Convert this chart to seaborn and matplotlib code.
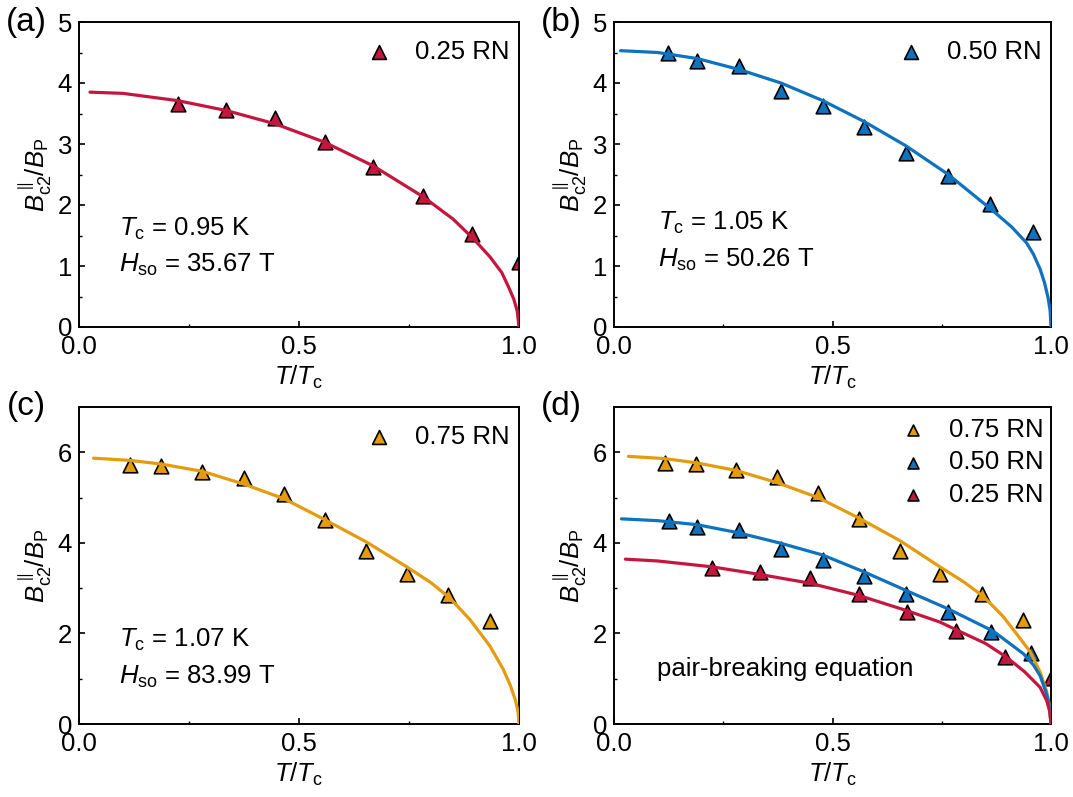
import matplotlib
matplotlib.use("Agg")
import matplotlib.pyplot as plt
import seaborn as sns
import pandas as pd

# ---------------- data ----------------
# measured points, T/Tc and Bc2/BP
t_025 = [0.225, 0.334, 0.446, 0.558, 0.669, 0.781, 0.893, 1.0]
b_025 = [3.66, 3.56, 3.43, 3.03, 2.62, 2.14, 1.52, 1.07]
t_050 = [0.124, 0.191, 0.287, 0.382, 0.478, 0.572, 0.668, 0.765, 0.860, 0.958]
b_050 = [4.50, 4.36, 4.28, 3.87, 3.62, 3.28, 2.86, 2.47, 2.01, 1.56]
t_075 = [0.117, 0.187, 0.280, 0.374, 0.467, 0.559, 0.653, 0.745, 0.839, 0.933]
b_075 = [5.73, 5.70, 5.57, 5.43, 5.08, 4.50, 3.81, 3.31, 2.84, 2.28]

# combined panel (d) values
t_025d = [0.225, 0.335, 0.448, 0.560, 0.671, 0.783, 0.895, 1.0]
b_025d = [3.45, 3.36, 3.22, 2.86, 2.48, 2.06, 1.47, 1.01]
t_050d = [0.126, 0.191, 0.286, 0.382, 0.478, 0.572, 0.668, 0.765, 0.862, 0.955]
b_050d = [4.49, 4.36, 4.29, 3.86, 3.62, 3.27, 2.86, 2.47, 2.03, 1.57]
t_075d = [0.116, 0.187, 0.279, 0.373, 0.467, 0.560, 0.654, 0.746, 0.841, 0.935]
b_075d = [5.76, 5.74, 5.61, 5.46, 5.10, 4.52, 3.83, 3.32, 2.87, 2.30]

# pair-breaking fit curves
ft_a = [0.025, 0.10, 0.225, 0.334, 0.446, 0.558, 0.669, 0.781, 0.798, 0.85, 0.896,
        0.934, 0.961, 0.976, 0.988, 0.996, 1.0]
fb_a = [3.85, 3.83, 3.71, 3.55, 3.33, 3.03, 2.64, 2.14, 2.05, 1.77, 1.45,
        1.15, 0.89, 0.66, 0.46, 0.26, 0.0]
ft_b = [0.015, 0.10, 0.191, 0.287, 0.382, 0.478, 0.572, 0.668, 0.765, 0.868, 0.91,
        0.944, 0.96, 0.975, 0.985, 0.993, 0.998, 1.0]
fb_b = [4.53, 4.50, 4.40, 4.22, 4.00, 3.71, 3.37, 2.97, 2.50, 1.90, 1.64,
        1.38, 1.19, 0.95, 0.73, 0.49, 0.27, 0.0]
ft_c = [0.033, 0.117, 0.187, 0.28, 0.374, 0.467, 0.559, 0.653, 0.745, 0.80, 0.843,
        0.889, 0.934, 0.964, 0.98, 0.992, 0.998, 1.0]
fb_c = [5.87, 5.82, 5.74, 5.58, 5.30, 4.97, 4.51, 4.02, 3.47, 3.12, 2.78,
        2.30, 1.72, 1.21, 0.86, 0.52, 0.26, 0.0]
ft_d75 = [0.033, 0.116, 0.187, 0.279, 0.373, 0.467, 0.56, 0.654, 0.746, 0.80, 0.845,
          0.89, 0.914, 0.93, 0.952, 0.975, 0.99, 0.997, 1.0]
fb_d75 = [5.91, 5.86, 5.77, 5.60, 5.33, 5.00, 4.55, 4.05, 3.47, 3.14, 2.82,
          2.38, 2.08, 1.88, 1.60, 1.15, 0.72, 0.39, 0.0]
ft_d50 = [0.017, 0.10, 0.191, 0.286, 0.382, 0.478, 0.572, 0.668, 0.765, 0.868, 0.937,
          0.96, 0.975, 0.99, 0.997, 1.0]
fb_d50 = [4.53, 4.49, 4.40, 4.22, 3.99, 3.73, 3.36, 2.95, 2.54, 2.05, 1.55,
          1.30, 1.07, 0.66, 0.36, 0.0]
ft_d25 = [0.026, 0.10, 0.225, 0.335, 0.448, 0.56, 0.671, 0.746, 0.783, 0.85, 0.899,
          0.94, 0.975, 0.99, 0.997, 1.0]
fb_d25 = [3.64, 3.60, 3.47, 3.30, 3.11, 2.84, 2.50, 2.25, 2.08, 1.78, 1.47,
          1.15, 0.81, 0.52, 0.28, 0.0]

labels = ["0.25 RN", "0.50 RN", "0.75 RN"]
panel_tags = ["(a)", "(b)", "(c)", "(d)"]
fit_text = [
    (r"$T_{\mathrm{c}}$ = 0.95 K", r"$H_{\mathrm{so}}$ = 35.67 T"),
    (r"$T_{\mathrm{c}}$ = 1.05 K", r"$H_{\mathrm{so}}$ = 50.26 T"),
    (r"$T_{\mathrm{c}}$ = 1.07 K", r"$H_{\mathrm{so}}$ = 83.99 T"),
]
note_d = "pair-breaking equation"

RED, BLUE, ORANGE = "#C4173F", "#0E72BE", "#E59B0E"

# ---------------- style ----------------
sns.set_style("ticks")
plt.rcParams.update({
    "font.family": ["Liberation Sans", "DejaVu Sans"],
    "mathtext.fontset": "custom",
    "mathtext.rm": "Liberation Sans",
    "mathtext.it": "Liberation Sans:italic",
    "mathtext.bf": "Liberation Sans:bold",
    "font.size": 18.5,
    "text.color": "black",
    "axes.labelcolor": "black",
    "axes.linewidth": 1.4,
    "axes.edgecolor": "black",
    "xtick.direction": "in",
    "ytick.direction": "in",
    "xtick.major.size": 4,
    "ytick.major.size": 4,
    "xtick.minor.size": 2.5,
    "ytick.minor.size": 2.5,
    "xtick.major.width": 1.2,
    "ytick.major.width": 1.2,
    "xtick.minor.width": 1.0,
    "ytick.minor.width": 1.0,
    "xtick.labelsize": 18.5,
    "ytick.labelsize": 18.5,
    "xtick.major.pad": 6,
    "ytick.major.pad": 5,
    "xtick.color": "black",
    "ytick.color": "black",
    "lines.solid_joinstyle": "round",
    "lines.solid_capstyle": "round",
})

W, H = 1073, 797
fig = plt.figure(figsize=(W / 100, H / 100), dpi=100)


def box(l, r, t, b):
    return [l / W, 1 - b / H, (r - l) / W, (b - t) / H]


ax_a = fig.add_axes(box(79, 519, 22, 327))
ax_b = fig.add_axes(box(614, 1051, 22, 327))
ax_c = fig.add_axes(box(79, 519, 407, 724))
ax_d = fig.add_axes(box(614, 1051, 407, 724))
axes = [ax_a, ax_b, ax_c, ax_d]

MS = 110
EW = 1.2


def points(ax, t, b, color, label):
    sns.scatterplot(data=pd.DataFrame({"t": t, "b": b}), x="t", y="b", ax=ax,
                    marker="^", s=MS, color=color, edgecolor="black",
                    linewidth=EW, zorder=2, label=label)


def curve(ax, t, b, color):
    sns.lineplot(data=pd.DataFrame({"t": t, "b": b}), x="t", y="b", ax=ax,
                 color=color, linewidth=2.3, sort=False, zorder=3,
                 legend=False)


points(ax_a, t_025, b_025, RED, labels[0])
curve(ax_a, ft_a, fb_a, RED)
points(ax_b, t_050, b_050, BLUE, labels[1])
curve(ax_b, ft_b, fb_b, BLUE)
points(ax_c, t_075, b_075, ORANGE, labels[2])
curve(ax_c, ft_c, fb_c, ORANGE)

points(ax_d, t_075d, b_075d, ORANGE, labels[2])
points(ax_d, t_050d, b_050d, BLUE, labels[1])
points(ax_d, t_025d, b_025d, RED, labels[0])
curve(ax_d, ft_d75, fb_d75, ORANGE)
curve(ax_d, ft_d50, fb_d50, BLUE)
curve(ax_d, ft_d25, fb_d25, RED)

legend_anchor = [(1.02, 1.0), (1.02, 1.0), (1.02, 1.0), (1.025, 1.022)]
legend_scale = [0.95, 0.95, 0.95, 0.75]

for i, ax in enumerate(axes):
    ax.set_xlim(0, 1)
    ax.set_xticks([0, 0.5, 1.0])
    ax.set_xticklabels(["0.0", "0.5", "1.0"])
    ax.set_xticks([0.25, 0.75], minor=True)
    if i < 2:
        ax.set_ylim(0, 5)
        ax.set_yticks([0, 1, 2, 3, 4, 5])
        ax.set_yticks([0.5, 1.5, 2.5, 3.5, 4.5], minor=True)
    else:
        ax.set_ylim(0, 7)
        ax.set_yticks([0, 2, 4, 6])
        ax.set_yticks([1, 3, 5], minor=True)
    ax.tick_params(which="both", top=False, right=False)
    for sp in ax.spines.values():
        sp.set_visible(True)
    ax.set_xlabel(r"$T/T_{\mathrm{c}}$", fontsize=18.5, labelpad=3)
    ax.set_ylabel(r"$B_{\mathrm{c2}}^{\parallel}/B_{\mathrm{P}}$", fontsize=18.5,
                  labelpad=3)
    ax.text(-0.12, 1.0, panel_tags[i], transform=ax.transAxes, fontsize=24,
            ha="center", va="center")
    ax.legend(loc="upper right", bbox_to_anchor=legend_anchor[i],
              frameon=False, fontsize=18.5, handlelength=1.0,
              handletextpad=0.9, markerscale=legend_scale[i],
              labelspacing=0.33, borderaxespad=0.3)

# fit parameters
for ax, (l1, l2), x0, y1, y2 in [
    (ax_a, fit_text[0], 0.09, 0.30, 0.18),
    (ax_b, fit_text[1], 0.10, 0.318, 0.197),
    (ax_c, fit_text[2], 0.09, 0.242, 0.126),
]:
    ax.text(x0, y1, l1, transform=ax.transAxes, fontsize=18.5, va="baseline")
    ax.text(x0, y2, l2, transform=ax.transAxes, fontsize=18.5, va="baseline")

ax_d.text(0.098, 0.152, note_d, transform=ax_d.transAxes, fontsize=18.5,
          va="baseline")

fig.savefig("out.png", dpi=100)
